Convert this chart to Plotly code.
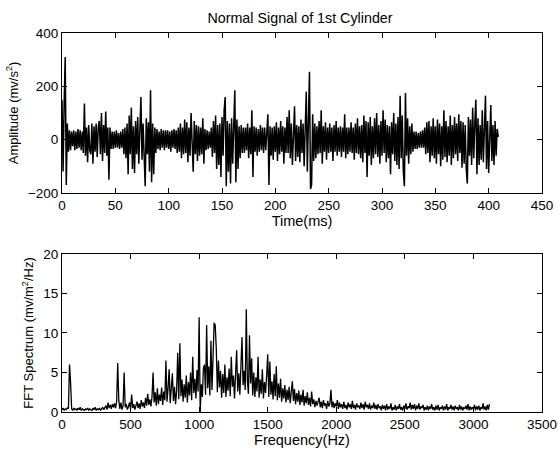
import plotly.graph_objects as go
from plotly.subplots import make_subplots

# ---- Time signal (1 ms steps, mv/s^2) ----
time_step_ms = 1.0
amplitude = [
    150, -120, 130, 310, -170, 60, -45, 35, -40, 30,
    -25, 35, -40, 30, -35, 40, -30, 35, -40, 30,
    -50, 135, -60, 45, -85, 55, -40, -55, 60, -90,
    50, -45, 60, -65, 45, 70, -55, 100, -80, 55,
    -50, 105, -60, 45, -150, 45, -35, 30, -35, 30,
    -30, 35, -30, 25, -35, 30, -30, 40, -55, 45,
    -70, 60, -130, 90, -55, 120, -110, 50, -125, 70,
    -55, 85, -90, 50, 160, -75, 60, -60, -175, 80,
    -55, 65, -120, 185, -160, 60, -130, 45, -50, 40,
    -35, 30, -40, 40, -30, 35, -40, 35, -30, 35,
    -35, 30, -45, 35, -30, 40, -35, 35, -50, 45,
    -45, 60, -70, 45, -55, 75, -50, 65, -85, 45,
    -60, 100, -50, -120, 70, -55, 55, -80, 50, -60,
    45, -55, 80, -90, 40, -40, 35, -35, 30, -30,
    45, -65, 70, -50, 90, -110, 55, -95, 60, -140,
    85, -60, 110, 160, -175, 70, -120, 60, -165, 80,
    -90, 60, 185, -160, 75, -110, 50, -70, 55, -50,
    45, -50, 45, -40, 60, -70, 45, -55, 110, -140,
    50, -45, 45, -60, 40, -45, 55, -40, 45, -50,
    45, -40, 60, 95, -170, 50, -60, 45, -75, 50,
    -45, 65, -80, 45, -55, 70, -45, 50, -90, 45,
    -50, 85, -50, 110, -70, 60, -95, 50, 125, -80,
    55, -65, 50, -85, 75, -50, 60, -100, 90, 180,
    -120, 100, 255, -185, -170, 95, -80, 60, -70, 50,
    -55, 70, -50, 110, -90, 50, -45, 65, -75, 45,
    -50, 60, -45, 45, -80, 55, -45, 70, -60, 45,
    -45, 50, -65, 45, -45, 95, -70, 45, -55, 45,
    -45, 65, -50, 45, -75, 60, -50, 80, -55, 50,
    -70, 55, -85, 90, -50, 70, -140, 65, -60, 85,
    -95, 50, -70, 80, -55, 100, -65, 55, -90, 70,
    -60, 110, -50, 75, -85, 55, -70, 50, -130, 65,
    -55, 100, -80, 60, -95, 85, -110, 165, -70, 90,
    -120, -175, 175, -60, 80, -90, 50, -55, 60, -45,
    30, -35, 30, -35, 25, -30, 30, -30, 35, -30,
    45, -55, 65, -50, 70, -85, 50, -60, 80, -70,
    50, -90, 75, -55, 60, -100, 50, -75, 110, -65,
    70, -85, 50, -60, 90, -95, 55, -70, 85, -55,
    60, -80, 95, -50, 70, -105, 65, -90, 55, -110,
    -165, 85, -60, 75, -95, 120, -70, 60, 150, -130,
    80, -95, 55, -75, 110, -85, 65, 165, -110, 70,
    -125, 60, 130, -80, 55, -95, 70, -60, 40, 10,
]
time_ms = [i * time_step_ms for i in range(len(amplitude))]

# ---- FFT spectrum (7.8125 Hz bins) ----
freq_step_hz = 7.8125
spectrum = [
    0.3, 0.5, 0.2, 0.4, 0.3, 0.5, 0.4, 6.0, 3.8, 0.4,
    0.2, 0.5, 0.3, 0.4, 0.2, 0.5, 0.3, 0.6, 0.2, 0.4,
    0.3, 0.2, 0.4, 0.3, 0.5, 0.2, 0.4, 0.3, 0.2, 0.5,
    0.3, 0.6, 0.2, 0.4, 0.3, 0.5, 0.2, 0.4, 0.6, 0.3,
    0.5, 0.8, 0.3, 1.2, 0.5, 0.9, 0.4, 1.0, 0.6, 1.1,
    0.5, 1.3, 6.2, 1.5, 0.4, 1.2, 0.3, 0.8, 5.0, 0.6,
    1.0, 0.3, 0.7, 1.2, 0.4, 2.2, 0.5, 1.0, 0.3, 0.8,
    1.3, 0.5, 1.1, 0.4, 1.5, 0.7, 1.2, 0.5, 1.8, 0.8,
    2.3, 0.9, 1.6, 0.7, 1.9, 5.0, 1.2, 2.5, 0.8, 3.0,
    1.0, 2.2, 1.4, 3.1, 0.9, 2.6, 1.5, 6.5, 1.3, 3.0,
    5.4, 1.1, 2.8, 4.9, 1.4, 3.2, 1.0, 2.7, 7.5, 1.6,
    8.7, 2.0, 4.1, 1.3, 3.5, 1.8, 4.6, 1.2, 3.8, 2.1,
    5.0, 1.5, 7.0, 2.4, 4.2, 1.7, 5.3, 2.6, 12.0, 0.0,
    3.5, 1.9, 5.6, 6.0, 2.2, 11.0, 3.0, 5.8, 2.1, 9.0,
    2.8, 6.2, 11.3, 11.0, 8.0, 2.5, 6.5, 3.1, 5.2, 1.8,
    4.8, 2.4, 6.0, 1.9, 4.4, 2.7, 5.5, 2.0, 7.0, 3.2,
    4.6, 1.7, 5.8, 7.8, 2.6, 4.9, 2.2, 6.1, 9.5, 3.4,
    5.2, 2.8, 13.0, 4.0, 2.3, 9.7, 3.6, 6.8, 2.1, 5.0,
    1.9, 4.4, 2.6, 7.0, 1.8, 4.1, 2.3, 5.4, 1.7, 3.8,
    2.4, 4.6, 7.3, 1.9, 6.4, 2.2, 3.9, 1.6, 4.8, 2.0,
    5.8, 1.5, 3.6, 1.8, 4.2, 1.3, 3.0, 1.7, 3.4, 1.2,
    2.8, 1.5, 3.2, 1.1, 2.6, 3.9, 1.4, 2.9, 1.0, 2.4,
    1.3, 2.7, 0.9, 2.2, 1.2, 2.8, 0.8, 2.0, 1.1, 2.5,
    0.9, 1.8, 0.7, 2.6, 1.0, 1.6, 0.6, 1.4, 0.8, 1.2,
    1.8, 0.6, 1.3, 0.5, 1.5, 0.8, 1.1, 0.4, 1.4, 0.7,
    1.0, 2.8, 0.6, 1.3, 0.5, 1.1, 0.7, 1.5, 0.4, 1.2,
    0.6, 1.0, 0.4, 1.3, 0.5, 0.9, 0.3, 1.2, 0.6, 1.0,
    0.4, 1.4, 0.5, 0.9, 0.3, 1.1, 0.6, 0.8, 0.4, 1.2,
    0.5, 1.0, 0.3, 1.3, 0.6, 0.9, 0.4, 1.1, 0.3, 0.8,
    0.5, 1.2, 0.4, 0.9, 0.3, 1.0, 0.5, 0.7, 0.2, 0.9,
    0.4, 0.8, 0.2, 1.0, 0.3, 0.7, 0.4, 1.1, 0.2, 0.6,
    0.3, 0.9, 0.2, 0.7, 0.4, 1.0, 0.3, 0.6, 0.2, 0.8,
    0.4, 1.1, 0.3, 0.7, 0.5, 1.2, 0.3, 0.9, 0.4, 1.0,
    0.2, 0.8, 0.4, 1.1, 0.3, 0.7, 0.5, 0.9, 0.2, 0.6,
    0.3, 0.8, 0.2, 0.7, 0.4, 1.0, 0.3, 0.6, 0.2, 0.8,
    0.3, 0.9, 0.2, 0.6, 0.4, 0.8, 0.2, 0.7, 0.3, 1.0,
    0.2, 0.6, 0.4, 0.9, 0.3, 0.7, 0.2, 0.8, 0.4, 0.6,
    0.2, 0.9, 0.3, 0.7, 0.2, 0.6, 0.4, 0.8, 0.3, 1.0,
    0.2, 0.7, 0.3, 0.6, 0.4, 0.9, 0.2, 0.7, 0.3, 0.8,
    0.2, 0.6, 0.4, 1.1, 0.3, 0.7, 0.2, 0.9, 0.3, 1.0,
]
freq_hz = [i * freq_step_hz for i in range(len(spectrum))]

title_text = "Normal Signal of 1st Cylinder"
FONT = "Liberation Sans, Arial, sans-serif"

fig = make_subplots(rows=2, cols=1, vertical_spacing=0.16)
fig.add_trace(go.Scatter(x=time_ms, y=amplitude, mode="lines",
                         line=dict(color="black", width=1.5), showlegend=False), row=1, col=1)
fig.add_trace(go.Scatter(x=freq_hz, y=spectrum, mode="lines",
                         line=dict(color="black", width=1.3), showlegend=False), row=2, col=1)

axis_common = dict(showline=True, linecolor="black", linewidth=1, mirror="ticks",
                   ticks="inside", ticklen=5, tickcolor="black", showgrid=False,
                   zeroline=False, automargin=False,
                   tickfont=dict(size=13.5, color="black", family=FONT))

fig.update_xaxes(**axis_common)
fig.update_yaxes(**axis_common)

xt_font = dict(size=14.5, family=FONT, color="black")
yt_font = dict(size=13, family=FONT, color="black")

fig.update_xaxes(range=[0, 450], dtick=50, domain=[0, 1],
                 title=dict(text="Time(ms)", standoff=0, font=xt_font),
                 row=1, col=1)
fig.update_yaxes(range=[-200, 400], dtick=200, domain=[0.578, 1],
                 title=dict(text="Amplitude (mv/s<sup>2</sup>)", standoff=6, font=yt_font),
                 row=1, col=1)
fig.update_xaxes(range=[0, 3500], dtick=500, domain=[0, 1],
                 title=dict(text="Frequency(Hz)", standoff=2, font=xt_font),
                 row=2, col=1)
fig.update_yaxes(range=[0, 20], dtick=5, domain=[0, 0.417],
                 title=dict(text="FFT Spectrum (mv/m<sup>2</sup>/Hz)", standoff=6, font=yt_font),
                 row=2, col=1)

fig.update_layout(
    template="none",
    width=558, height=454,
    margin=dict(l=62, r=16, t=33, b=42),
    paper_bgcolor="white", plot_bgcolor="white",
    font=dict(family=FONT, color="black", size=13),
    title=dict(text=title_text, xref="container", x=300 / 558, xanchor="center",
               yref="container", y=1 - 18 / 454, yanchor="middle",
               font=dict(size=14.3, family=FONT, color="black")),
)

fig.write_html("out.html", config={"displayModeBar": False},
               post_script="document.body.style.margin='0';")
